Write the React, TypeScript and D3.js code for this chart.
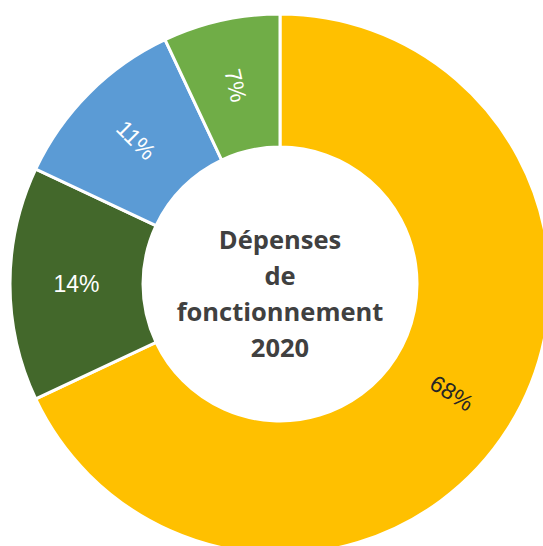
import React from "react";
import * as d3 from "d3";

const categories = ["Part A", "Part B", "Part C", "Part D"];
const values = [68, 14, 11, 7];
const sliceColors = ["#FFC000", "#43682B", "#5B9BD5", "#70AD47"];
const labelColors = ["#262626", "#FFFFFF", "#FFFFFF", "#FFFFFF"];
const titleLines = ["Dépenses", "de", "fonctionnement", "2020"];

const W = 543;
const H = 546;
const cx = 280;
const cy = 284;
const outerR = 270;
const innerR = 137;

const App: React.FC = () => {
    const pie = d3.pie<number>().sort(null).value(d => d);
    const arcs = pie(values);
    const arc = d3.arc<d3.PieArcDatum<number>>()
        .innerRadius(innerR)
        .outerRadius(outerR);
    const labelArc = d3.arc<d3.PieArcDatum<number>>()
        .innerRadius((innerR + outerR) / 2)
        .outerRadius((innerR + outerR) / 2);

    // text runs along the ring (tangent to the radius)
    const labelRotation = (a: d3.PieArcDatum<number>) => {
        const mid = ((a.startAngle + a.endAngle) / 2) * 180 / Math.PI;
        let r = mid - 90;
        while (r > 90) r -= 180;
        while (r < -90) r += 180;
        return r;
    };

    return (
        <svg
            width={W}
            height={H}
            style={{ position: "absolute", top: 0, left: 0, background: "#fff" }}
        >
            <g transform={`translate(${cx},${cy})`}>
                {arcs.map((a, i) => (
                    <path
                        key={categories[i]}
                        d={arc(a) || ""}
                        fill={sliceColors[i]}
                        stroke="#fff"
                        strokeWidth={3}
                    />
                ))}
                {arcs.map((a, i) => {
                    const [x, y] = labelArc.centroid(a);
                    return (
                        <text
                            key={"l" + i}
                            transform={`translate(${x},${y}) rotate(${labelRotation(a)})`}
                            textAnchor="middle"
                            dominantBaseline="central"
                            fontFamily="'Liberation Sans', Arial, sans-serif"
                            fontSize={23}
                            fill={labelColors[i]}
                        >
                            {values[i]}%
                        </text>
                    );
                })}
                {titleLines.map((t, i) => (
                    <text
                        key={t}
                        x={0}
                        y={-35 + i * 36}
                        textAnchor="middle"
                        fontFamily="'Open Sans', sans-serif"
                        fontWeight="bold"
                        fontSize={25.5}
                        fill="#404040"
                    >
                        {t}
                    </text>
                ))}
            </g>
        </svg>
    );
};

export default App;
